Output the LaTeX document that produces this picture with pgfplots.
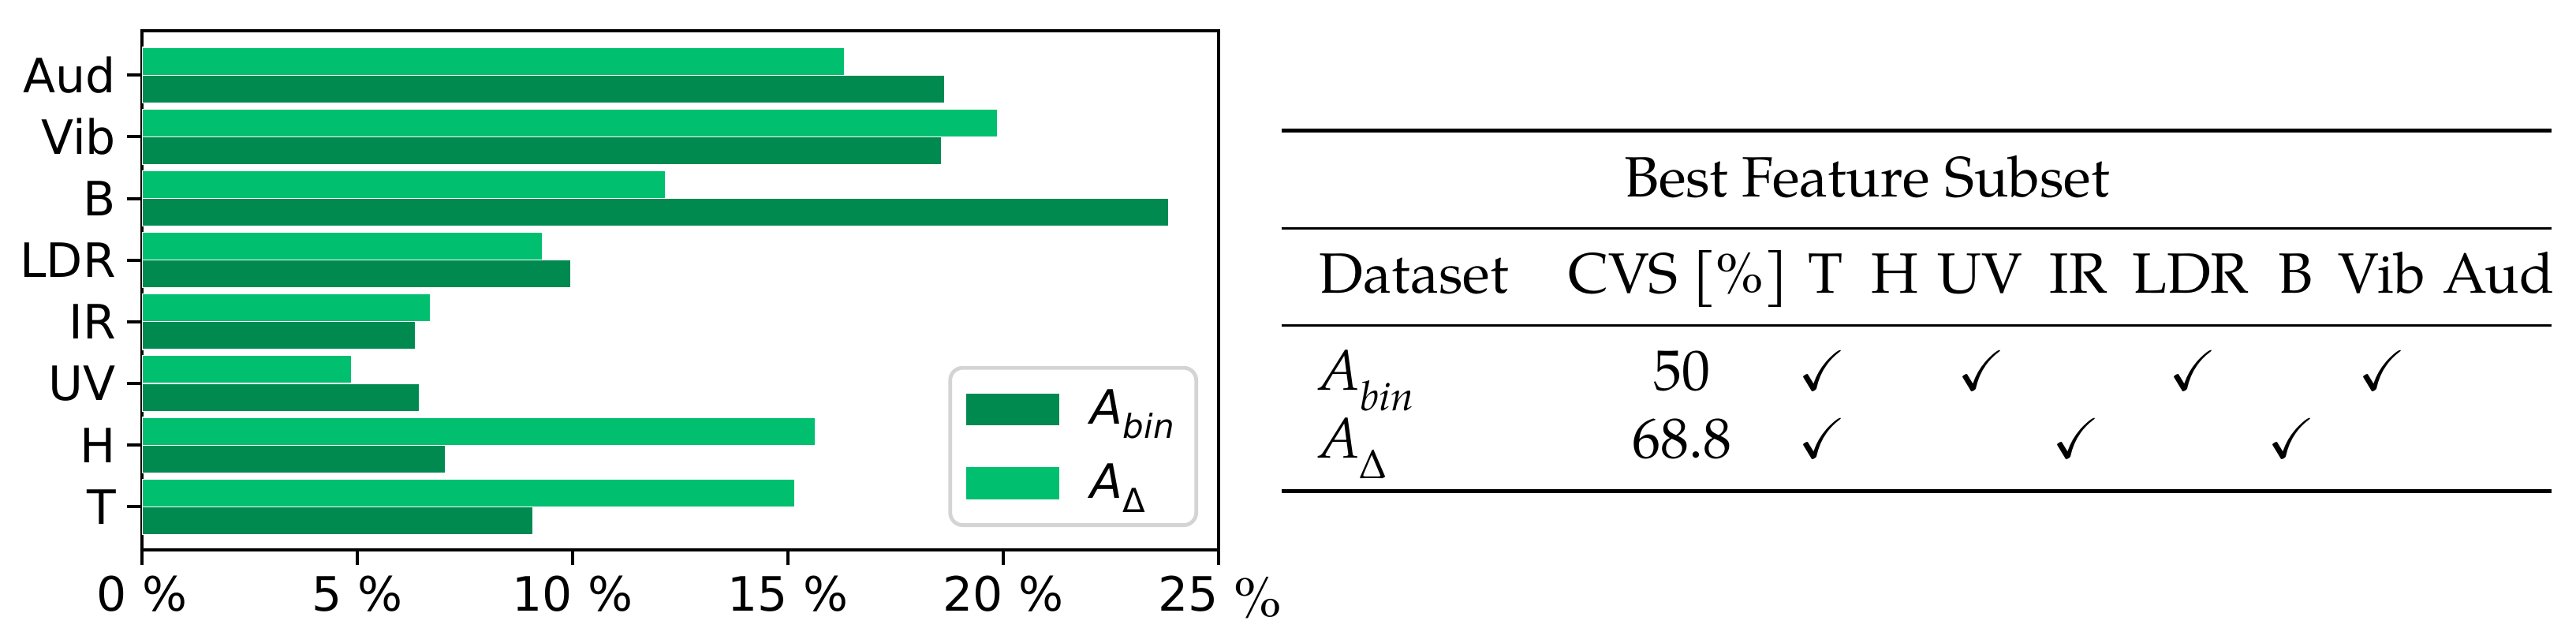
\documentclass[border=0pt]{standalone}
\usepackage{amssymb}
\usepackage{pgfplots}
\pgfplotsset{compat=1.18}
\usepackage{fontspec}
\setmainfont{DejaVu Sans}
\newfontfamily\pal{TeX Gyre Pagella}
\definecolor{dgreen}{RGB}{0,138,80}
\definecolor{lgreen}{RGB}{0,191,111}
\pgfplotstableread{
y bin delta
0 9.08 15.15
1 7.04 15.63
2 6.44 4.87
3 6.34 6.70
4 9.96 9.29
5 23.84 12.16
6 18.56 19.86
7 18.64 16.32
}\datatab
\newcommand{\tf}{\pal\fontsize{18}{21}\selectfont}
\begin{document}
\begin{tikzpicture}
\useasboundingbox (0,0) rectangle (816.5pt,203.5pt);
\begin{axis}[
  at={(45pt,29.25pt)}, anchor=south west,
  scale only axis, width=341.25pt, height=164.5pt,
  xbar, bar width=0.45,
  xmin=0, xmax=25, ymin=-0.7, ymax=7.72,
  xtick={0,5,10,15,20,25},
  xticklabels={0 \%, 5 \%, 10 \%, 15 \%, 20 \%, {25 \makebox[0.95em][l]{\pal\fontsize{18}{20}\selectfont\raisebox{-2pt}{\%}}}},
  ytick={0,...,7}, yticklabels={T,H,UV,IR,LDR,B,Vib,Aud},
  tick align=outside, tick pos=left, major tick length=4.75pt,
  tick style={line width=1pt, black},
  axis line style={line width=1pt},
  ticklabel style={font=\fontsize{15}{18}\selectfont},
  legend cell align=left,
  legend style={at={(0.981,0.044)}, anchor=south east, draw=black!17, line width=1.2pt,
    rounded corners=4pt, font=\fontsize{15}{18}\selectfont, row sep=7pt,
    inner xsep=5pt, inner ysep=5pt,
    /tikz/every odd column/.append style={column sep=8pt}},
  legend image code/.code={\fill[#1, draw=none, sharp corners] (0pt,-5.1pt) rectangle (29.5pt,5.1pt);},
]
\addplot[fill=dgreen, draw=white, line width=0.3pt, bar shift=-0.225] table[x=bin, y=y] {\datatab};
\addlegendentry{\itshape A\raisebox{-0.3em}{\fontsize{10.5}{12}\selectfont bin}}
\addplot[fill=lgreen, draw=white, line width=0.3pt, bar shift=0.225] table[x=delta, y=y] {\datatab};
\addlegendentry{\itshape A\raisebox{-0.3em}{\fontsize{10.5}{12}\selectfont\upshape Δ}}
\end{axis}
% table
\draw[line width=1.25pt] (406.25pt,162pt) -- (808.75pt,162pt);
\draw[line width=0.75pt] (406.25pt,131pt) -- (808.75pt,131pt);
\draw[line width=0.75pt] (406.25pt,100.25pt) -- (808.75pt,100.25pt);
\draw[line width=1.25pt] (406.25pt,47.75pt) -- (808.75pt,47.75pt);
\tikzset{tt/.style={inner sep=0pt, font=\tf, anchor=base}}
\node[tt] at (591.75pt,141pt) {Best Feature Subset};
\node[tt, anchor=base west] at (418pt,110.5pt) {Dataset};
\node[tt] at (532pt,110.5pt) {CVS [\%]};
\node[tt] at (578.75pt,110.5pt) {T};
\node[tt] at (600.5pt,110.5pt) {H};
\node[tt] at (627.5pt,110.5pt) {UV};
\node[tt] at (658.75pt,110.5pt) {IR};
\node[tt] at (694.25pt,110.5pt) {LDR};
\node[tt] at (727.5pt,110.5pt) {B};
\node[tt] at (755pt,110.5pt) {Vib};
\node[tt] at (792pt,110.5pt) {Aud};
\node[tt, anchor=base west] at (418pt,79.75pt) {\itshape A\raisebox{-0.35em}{\fontsize{13}{14}\selectfont bin}};
\node[tt] at (533pt,79.75pt) {50};
\node[tt] at (577.5pt,79.75pt) {$\checkmark$};
\node[tt] at (628pt,79.75pt) {$\checkmark$};
\node[tt] at (695pt,79.75pt) {$\checkmark$};
\node[tt] at (755pt,79.75pt) {$\checkmark$};
\node[tt, anchor=base west] at (418pt,58.25pt) {\itshape A\raisebox{-0.35em}{\fontsize{13}{14}\selectfont\upshape Δ}};
\node[tt] at (533pt,58.25pt) {68.8};
\node[tt] at (577.5pt,58.25pt) {$\checkmark$};
\node[tt] at (658pt,58.25pt) {$\checkmark$};
\node[tt] at (726.25pt,58.25pt) {$\checkmark$};
\end{tikzpicture}
\end{document}
